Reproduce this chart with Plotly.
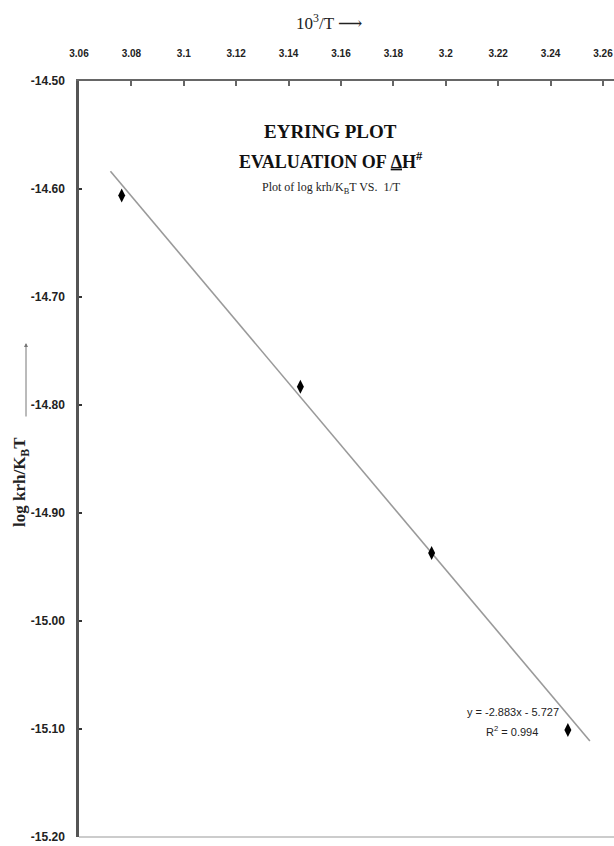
import plotly.graph_objects as go

# ---- data ----
inv_T = [3.0763, 3.1445, 3.1946, 3.2466]          # 10^3/T
log_k = [-14.606, -14.783, -14.937, -15.101]       # log krh/KBT
fit_slope = -2.883
fit_intercept = -5.727
fit_r2 = 0.994
trend_x = [3.072, 3.255]
trend_y = [fit_slope * x + fit_intercept for x in trend_x]

x_ticks = [3.06, 3.08, 3.10, 3.12, 3.14, 3.16, 3.18, 3.20, 3.22, 3.24, 3.26]
x_tick_labels = ["3.06", "3.08", "3.1", "3.12", "3.14", "3.16", "3.18", "3.2", "3.22", "3.24", "3.26"]
y_ticks = [-14.5, -14.6, -14.7, -14.8, -14.9, -15.0, -15.1, -15.2]
y_tick_labels = ["-14.50", "-14.60", "-14.70", "-14.80", "-14.90", "-15.00", "-15.10", "-15.20"]

W, H = 614, 846
PL, PT, PR, PB = 79, 81, 614, 837      # plot area in window pixels
ML, MT, MR, MB = PL, PT, W - PR, H - PB
PW, PH = PR - PL, PB - PT


def px(xp):
    return (xp - PL) / PW


def py(yp):
    return (PB - yp) / PH


SERIF = "Liberation Serif, DejaVu Serif, serif"
NARROW = "Liberation Sans Narrow, Liberation Sans, Arial, sans-serif"

fig = go.Figure()
fig.add_trace(go.Scatter(x=trend_x, y=trend_y, mode="lines",
                         line=dict(color="#9a9a9a", width=1.6),
                         hoverinfo="skip", showlegend=False, cliponaxis=False))
fig.add_trace(go.Scatter(x=inv_T, y=log_k, mode="markers",
                         marker=dict(symbol="diamond-tall", size=10, color="black"),
                         showlegend=False))

fig.update_layout(
    width=W, height=H,
    margin=dict(l=ML, r=MR, t=MT, b=MB, autoexpand=False),
    paper_bgcolor="white", plot_bgcolor="white",
    xaxis=dict(range=[3.06, 3.2642], side="top", tickvals=x_ticks, ticktext=x_tick_labels,
               showgrid=False, zeroline=False, showline=True, linecolor="#666666", linewidth=2,
               ticks="inside", ticklen=5, tickcolor="#666666", tickwidth=1.5,
               ticklabelstandoff=18, ticklabeloverflow="allow", automargin=False,
               tickfont=dict(family=NARROW, size=10, color="#222222", weight="bold")),
    yaxis=dict(range=[-15.2, -14.5], tickvals=y_ticks, ticktext=y_tick_labels,
               showgrid=False, zeroline=False, showline=True, linecolor="#555555", linewidth=2.5,
               ticks="inside", ticklen=3, tickcolor="#333333", tickwidth=2,
               ticklabelstandoff=9, ticklabeloverflow="allow", automargin=False,
               tickfont=dict(family=NARROW, size=12, color="#222222", weight="bold")),
)

# light bottom border
fig.add_shape(type="line", xref="paper", yref="paper", x0=0, x1=1, y0=0, y1=0,
              line=dict(color="#cccccc", width=2))


def note(xw, yw, text, font, **kw):
    d = dict(x=px(xw), y=py(yw), xref="paper", yref="paper", showarrow=False,
             xanchor="center", yanchor="middle", text=text, font=font)
    d.update(kw)
    return d


ann = [
    note(329, 22, "10<sup>3</sup>/T ⟶", dict(family=SERIF, size=17, color="#222222")),
    note(330, 131, "<b>EYRING PLOT</b>", dict(family=SERIF, size=19, color="#111111")),
    note(331, 160, "<b>EVALUATION OF <u>Δ</u>H<sup>#</sup></b>",
         dict(family=SERIF, size=18, color="#111111")),
    note(331, 188, "Plot of log krh/K<sub>B</sub>T VS.  1/T",
         dict(family=SERIF, size=12, color="#222222")),
    note(21, 482, "<b>log krh/K<sub>B</sub>T</b>",
         dict(family=SERIF, size=17, color="#222222"), textangle=-90),
    note(513, 712, f"y = {fit_slope}x - {abs(fit_intercept)}",
         dict(family=NARROW, size=11, color="#222222")),
    note(512, 731, f"R<sup>2</sup> = {fit_r2}",
         dict(family=NARROW, size=11, color="#222222")),
]
ann.append(dict(x=px(26), y=py(343), xref="paper", yref="paper", showarrow=True,
                ax=0, ay=75, axref="pixel", ayref="pixel", text="",
                arrowhead=2, arrowsize=0.8, arrowwidth=1, arrowcolor="#777777"))
fig.update_layout(annotations=ann)

fig.write_html("out.html",
               config={"displayModeBar": False},
               post_script="document.body.style.margin='0px';document.body.style.overflow='hidden';")
